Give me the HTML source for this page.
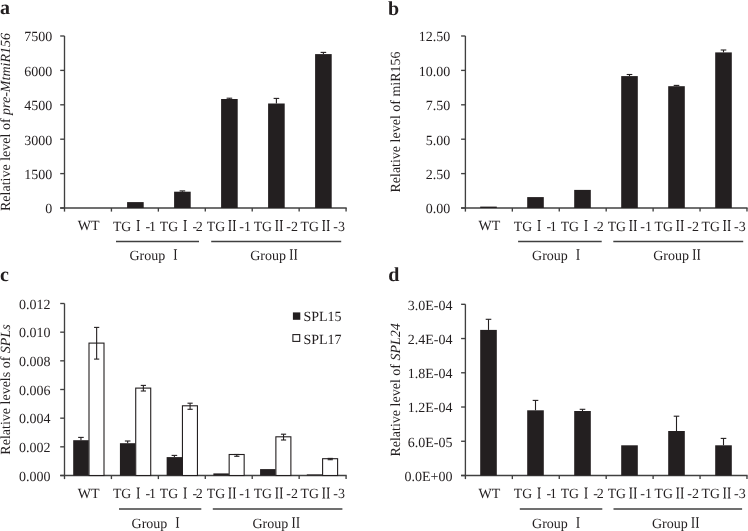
<!DOCTYPE html>
<html><head><meta charset="utf-8"><style>
html,body{margin:0;padding:0;background:#fff;}
svg{display:block;will-change:transform;}
text{font-family:"Liberation Serif", serif; fill:#231f20; text-rendering:geometricPrecision;}
</style></head><body>
<svg width="748" height="531" viewBox="0 0 748 531">
<rect width="748" height="531" fill="#fff"/>
<line x1="64.50" y1="36.00" x2="64.50" y2="211.60" stroke="#404040" stroke-width="1.35"/>
<line x1="60.20" y1="208.00" x2="64.50" y2="208.00" stroke="#404040" stroke-width="1.35"/>
<text x="52.20" y="213.30" font-size="14" text-anchor="end">0</text>
<line x1="60.20" y1="173.60" x2="64.50" y2="173.60" stroke="#404040" stroke-width="1.35"/>
<text x="52.20" y="178.90" font-size="14" text-anchor="end">1500</text>
<line x1="60.20" y1="139.20" x2="64.50" y2="139.20" stroke="#404040" stroke-width="1.35"/>
<text x="52.20" y="144.50" font-size="14" text-anchor="end">3000</text>
<line x1="60.20" y1="104.80" x2="64.50" y2="104.80" stroke="#404040" stroke-width="1.35"/>
<text x="52.20" y="110.10" font-size="14" text-anchor="end">4500</text>
<line x1="60.20" y1="70.40" x2="64.50" y2="70.40" stroke="#404040" stroke-width="1.35"/>
<text x="52.20" y="75.70" font-size="14" text-anchor="end">6000</text>
<line x1="60.20" y1="36.00" x2="64.50" y2="36.00" stroke="#404040" stroke-width="1.35"/>
<text x="52.20" y="41.30" font-size="14" text-anchor="end">7500</text>
<line x1="60.20" y1="208.00" x2="346.68" y2="208.00" stroke="#404040" stroke-width="1.35"/>
<line x1="111.43" y1="208.00" x2="111.43" y2="211.60" stroke="#404040" stroke-width="1.35"/>
<line x1="158.36" y1="208.00" x2="158.36" y2="211.60" stroke="#404040" stroke-width="1.35"/>
<line x1="205.29" y1="208.00" x2="205.29" y2="211.60" stroke="#404040" stroke-width="1.35"/>
<line x1="252.22" y1="208.00" x2="252.22" y2="211.60" stroke="#404040" stroke-width="1.35"/>
<line x1="299.15" y1="208.00" x2="299.15" y2="211.60" stroke="#404040" stroke-width="1.35"/>
<line x1="346.08" y1="208.00" x2="346.08" y2="211.60" stroke="#404040" stroke-width="1.35"/>
<text transform="translate(10.3,122.00) rotate(-90)" font-size="14" text-anchor="middle">Relative level of <tspan font-style="italic">pre-MtmiR156</tspan></text>
<text x="0" y="13.7" font-size="20" font-weight="bold">a</text>
<text x="88.56" y="230.40" font-size="14" text-anchor="middle">WT</text>
<text x="112.90" y="230.80" font-size="14" text-anchor="start" textLength="18.3" lengthAdjust="spacingAndGlyphs">TG</text>
<path d="M136.25,220.10H140.15L138.82,221.20V230.00L140.15,231.10H136.25L137.58,230.00V221.20Z" fill="#231f20"/>
<text x="145.50" y="230.80" font-size="14" text-anchor="start">-</text>
<text x="148.90" y="230.80" font-size="14" text-anchor="start">1</text>
<text x="159.83" y="230.80" font-size="14" text-anchor="start" textLength="18.3" lengthAdjust="spacingAndGlyphs">TG</text>
<path d="M183.18,220.10H187.08L185.75,221.20V230.00L187.08,231.10H183.18L184.51,230.00V221.20Z" fill="#231f20"/>
<text x="192.43" y="230.80" font-size="14" text-anchor="start">-</text>
<text x="195.83" y="230.80" font-size="14" text-anchor="start">2</text>
<text x="206.75" y="230.80" font-size="14" text-anchor="start" textLength="18.3" lengthAdjust="spacingAndGlyphs">TG</text>
<path d="M228.10,220.10H231.80L230.57,221.20V230.00L231.80,231.10H228.10L229.33,230.00V221.20Z" fill="#231f20"/>
<path d="M232.55,220.10H236.16L234.97,221.20V230.00L236.16,231.10H232.55L233.73,230.00V221.20Z" fill="#231f20"/>
<text x="239.35" y="230.80" font-size="14" text-anchor="start">-</text>
<text x="244.06" y="230.80" font-size="14" text-anchor="start">1</text>
<text x="253.69" y="230.80" font-size="14" text-anchor="start" textLength="18.3" lengthAdjust="spacingAndGlyphs">TG</text>
<path d="M275.03,220.10H278.74L277.50,221.20V230.00L278.74,231.10H275.03L276.26,230.00V221.20Z" fill="#231f20"/>
<path d="M279.48,220.10H283.08L281.90,221.20V230.00L283.08,231.10H279.48L280.66,230.00V221.20Z" fill="#231f20"/>
<text x="286.29" y="230.80" font-size="14" text-anchor="start">-</text>
<text x="290.99" y="230.80" font-size="14" text-anchor="start">2</text>
<text x="300.61" y="230.80" font-size="14" text-anchor="start" textLength="18.3" lengthAdjust="spacingAndGlyphs">TG</text>
<path d="M321.96,220.10H325.66L324.43,221.20V230.00L325.66,231.10H321.96L323.19,230.00V221.20Z" fill="#231f20"/>
<path d="M326.41,220.10H330.01L328.83,221.20V230.00L330.01,231.10H326.41L327.59,230.00V221.20Z" fill="#231f20"/>
<text x="333.21" y="230.80" font-size="14" text-anchor="start">-</text>
<text x="337.91" y="230.80" font-size="14" text-anchor="start">3</text>
<line x1="116.00" y1="241.50" x2="199.00" y2="241.50" stroke="#404040" stroke-width="1.35"/>
<line x1="211.20" y1="241.50" x2="341.20" y2="241.50" stroke="#404040" stroke-width="1.35"/>
<text x="129.50" y="259.80" font-size="14" text-anchor="start">Group</text>
<path d="M173.45,249.20H177.35L176.02,250.30V258.70L177.35,259.80H173.45L174.78,258.70V250.30Z" fill="#231f20"/>
<text x="250.20" y="259.80" font-size="14" text-anchor="start">Group</text>
<path d="M289.45,249.20H293.15L291.92,250.30V258.70L293.15,259.80H289.45L290.68,258.70V250.30Z" fill="#231f20"/>
<path d="M293.90,249.20H297.50L296.32,250.30V258.70L297.50,259.80H293.90L295.08,258.70V250.30Z" fill="#231f20"/>
<rect x="127.10" y="202.10" width="16.60" height="5.90" fill="#231f20"/>
<line x1="182.40" y1="190.90" x2="182.40" y2="191.70" stroke="#231f20" stroke-width="1.1"/>
<line x1="179.60" y1="190.90" x2="185.20" y2="190.90" stroke="#231f20" stroke-width="1.1"/>
<rect x="174.10" y="191.70" width="16.60" height="16.30" fill="#231f20"/>
<line x1="229.40" y1="98.20" x2="229.40" y2="99.00" stroke="#231f20" stroke-width="1.1"/>
<line x1="226.60" y1="98.20" x2="232.20" y2="98.20" stroke="#231f20" stroke-width="1.1"/>
<rect x="221.10" y="99.00" width="16.60" height="109.00" fill="#231f20"/>
<line x1="276.40" y1="98.40" x2="276.40" y2="103.50" stroke="#231f20" stroke-width="1.1"/>
<line x1="273.60" y1="98.40" x2="279.20" y2="98.40" stroke="#231f20" stroke-width="1.1"/>
<rect x="268.10" y="103.50" width="16.60" height="104.50" fill="#231f20"/>
<line x1="323.40" y1="52.40" x2="323.40" y2="54.10" stroke="#231f20" stroke-width="1.1"/>
<line x1="320.60" y1="52.40" x2="326.20" y2="52.40" stroke="#231f20" stroke-width="1.1"/>
<rect x="315.10" y="54.10" width="16.60" height="153.90" fill="#231f20"/>
<line x1="465.40" y1="36.00" x2="465.40" y2="211.60" stroke="#404040" stroke-width="1.35"/>
<line x1="461.10" y1="208.00" x2="465.40" y2="208.00" stroke="#404040" stroke-width="1.35"/>
<text x="450.20" y="213.30" font-size="14" text-anchor="end">0.00</text>
<line x1="461.10" y1="173.60" x2="465.40" y2="173.60" stroke="#404040" stroke-width="1.35"/>
<text x="450.20" y="178.90" font-size="14" text-anchor="end">2.50</text>
<line x1="461.10" y1="139.20" x2="465.40" y2="139.20" stroke="#404040" stroke-width="1.35"/>
<text x="450.20" y="144.50" font-size="14" text-anchor="end">5.00</text>
<line x1="461.10" y1="104.80" x2="465.40" y2="104.80" stroke="#404040" stroke-width="1.35"/>
<text x="450.20" y="110.10" font-size="14" text-anchor="end">7.50</text>
<line x1="461.10" y1="70.40" x2="465.40" y2="70.40" stroke="#404040" stroke-width="1.35"/>
<text x="450.20" y="75.70" font-size="14" text-anchor="end">10.00</text>
<line x1="461.10" y1="36.00" x2="465.40" y2="36.00" stroke="#404040" stroke-width="1.35"/>
<text x="450.20" y="41.30" font-size="14" text-anchor="end">12.50</text>
<line x1="461.10" y1="208.00" x2="747.58" y2="208.00" stroke="#404040" stroke-width="1.35"/>
<line x1="512.33" y1="208.00" x2="512.33" y2="211.60" stroke="#404040" stroke-width="1.35"/>
<line x1="559.26" y1="208.00" x2="559.26" y2="211.60" stroke="#404040" stroke-width="1.35"/>
<line x1="606.19" y1="208.00" x2="606.19" y2="211.60" stroke="#404040" stroke-width="1.35"/>
<line x1="653.12" y1="208.00" x2="653.12" y2="211.60" stroke="#404040" stroke-width="1.35"/>
<line x1="700.05" y1="208.00" x2="700.05" y2="211.60" stroke="#404040" stroke-width="1.35"/>
<line x1="746.98" y1="208.00" x2="746.98" y2="211.60" stroke="#404040" stroke-width="1.35"/>
<text transform="translate(399.8,122.00) rotate(-90)" font-size="14" text-anchor="middle">Relative level of miR156</text>
<text x="388" y="14.5" font-size="20" font-weight="bold">b</text>
<text x="489.46" y="230.40" font-size="14" text-anchor="middle">WT</text>
<text x="513.79" y="230.80" font-size="14" text-anchor="start" textLength="18.3" lengthAdjust="spacingAndGlyphs">TG</text>
<path d="M537.14,220.10H541.04L539.71,221.20V230.00L541.04,231.10H537.14L538.47,230.00V221.20Z" fill="#231f20"/>
<text x="546.39" y="230.80" font-size="14" text-anchor="start">-</text>
<text x="549.79" y="230.80" font-size="14" text-anchor="start">1</text>
<text x="560.73" y="230.80" font-size="14" text-anchor="start" textLength="18.3" lengthAdjust="spacingAndGlyphs">TG</text>
<path d="M584.07,220.10H587.98L586.64,221.20V230.00L587.98,231.10H584.07L585.40,230.00V221.20Z" fill="#231f20"/>
<text x="593.33" y="230.80" font-size="14" text-anchor="start">-</text>
<text x="596.73" y="230.80" font-size="14" text-anchor="start">2</text>
<text x="607.65" y="230.80" font-size="14" text-anchor="start" textLength="18.3" lengthAdjust="spacingAndGlyphs">TG</text>
<path d="M629.00,220.10H632.71L631.48,221.20V230.00L632.71,231.10H629.00L630.24,230.00V221.20Z" fill="#231f20"/>
<path d="M633.46,220.10H637.05L635.88,221.20V230.00L637.05,231.10H633.46L634.63,230.00V221.20Z" fill="#231f20"/>
<text x="640.25" y="230.80" font-size="14" text-anchor="start">-</text>
<text x="644.95" y="230.80" font-size="14" text-anchor="start">1</text>
<text x="654.59" y="230.80" font-size="14" text-anchor="start" textLength="18.3" lengthAdjust="spacingAndGlyphs">TG</text>
<path d="M675.94,220.10H679.64L678.41,221.20V230.00L679.64,231.10H675.94L677.17,230.00V221.20Z" fill="#231f20"/>
<path d="M680.39,220.10H683.99L682.81,221.20V230.00L683.99,231.10H680.39L681.57,230.00V221.20Z" fill="#231f20"/>
<text x="687.19" y="230.80" font-size="14" text-anchor="start">-</text>
<text x="691.88" y="230.80" font-size="14" text-anchor="start">2</text>
<text x="701.51" y="230.80" font-size="14" text-anchor="start" textLength="18.3" lengthAdjust="spacingAndGlyphs">TG</text>
<path d="M722.87,220.10H726.57L725.34,221.20V230.00L726.57,231.10H722.87L724.10,230.00V221.20Z" fill="#231f20"/>
<path d="M727.32,220.10H730.91L729.74,221.20V230.00L730.91,231.10H727.32L728.50,230.00V221.20Z" fill="#231f20"/>
<text x="734.12" y="230.80" font-size="14" text-anchor="start">-</text>
<text x="738.81" y="230.80" font-size="14" text-anchor="start">3</text>
<line x1="518.10" y1="241.50" x2="601.70" y2="241.50" stroke="#404040" stroke-width="1.35"/>
<line x1="613.30" y1="241.50" x2="743.20" y2="241.50" stroke="#404040" stroke-width="1.35"/>
<text x="532.10" y="259.80" font-size="14" text-anchor="start">Group</text>
<path d="M576.05,249.20H579.95L578.62,250.30V258.70L579.95,259.80H576.05L577.38,258.70V250.30Z" fill="#231f20"/>
<text x="653.20" y="259.80" font-size="14" text-anchor="start">Group</text>
<path d="M692.45,249.20H696.15L694.92,250.30V258.70L696.15,259.80H692.45L693.68,258.70V250.30Z" fill="#231f20"/>
<path d="M696.90,249.20H700.50L699.32,250.30V258.70L700.50,259.80H696.90L698.08,258.70V250.30Z" fill="#231f20"/>
<rect x="480.20" y="206.60" width="16.60" height="1.40" fill="#231f20"/>
<rect x="527.20" y="197.10" width="16.60" height="10.90" fill="#231f20"/>
<rect x="574.20" y="189.90" width="16.60" height="18.10" fill="#231f20"/>
<line x1="629.50" y1="74.50" x2="629.50" y2="76.10" stroke="#231f20" stroke-width="1.1"/>
<line x1="626.70" y1="74.50" x2="632.30" y2="74.50" stroke="#231f20" stroke-width="1.1"/>
<rect x="621.20" y="76.10" width="16.60" height="131.90" fill="#231f20"/>
<line x1="676.50" y1="85.40" x2="676.50" y2="86.20" stroke="#231f20" stroke-width="1.1"/>
<line x1="673.70" y1="85.40" x2="679.30" y2="85.40" stroke="#231f20" stroke-width="1.1"/>
<rect x="668.20" y="86.20" width="16.60" height="121.80" fill="#231f20"/>
<line x1="723.50" y1="50.00" x2="723.50" y2="52.40" stroke="#231f20" stroke-width="1.1"/>
<line x1="720.70" y1="50.00" x2="726.30" y2="50.00" stroke="#231f20" stroke-width="1.1"/>
<rect x="715.20" y="52.40" width="16.60" height="155.60" fill="#231f20"/>
<line x1="64.50" y1="303.50" x2="64.50" y2="479.10" stroke="#404040" stroke-width="1.35"/>
<line x1="60.20" y1="475.50" x2="64.50" y2="475.50" stroke="#404040" stroke-width="1.35"/>
<text x="50.60" y="480.80" font-size="14" text-anchor="end">0.000</text>
<line x1="60.20" y1="446.83" x2="64.50" y2="446.83" stroke="#404040" stroke-width="1.35"/>
<text x="50.60" y="452.13" font-size="14" text-anchor="end">0.002</text>
<line x1="60.20" y1="418.17" x2="64.50" y2="418.17" stroke="#404040" stroke-width="1.35"/>
<text x="50.60" y="423.47" font-size="14" text-anchor="end">0.004</text>
<line x1="60.20" y1="389.50" x2="64.50" y2="389.50" stroke="#404040" stroke-width="1.35"/>
<text x="50.60" y="394.80" font-size="14" text-anchor="end">0.006</text>
<line x1="60.20" y1="360.83" x2="64.50" y2="360.83" stroke="#404040" stroke-width="1.35"/>
<text x="50.60" y="366.13" font-size="14" text-anchor="end">0.008</text>
<line x1="60.20" y1="332.17" x2="64.50" y2="332.17" stroke="#404040" stroke-width="1.35"/>
<text x="50.60" y="337.47" font-size="14" text-anchor="end">0.010</text>
<line x1="60.20" y1="303.50" x2="64.50" y2="303.50" stroke="#404040" stroke-width="1.35"/>
<text x="50.60" y="308.80" font-size="14" text-anchor="end">0.012</text>
<line x1="60.20" y1="475.50" x2="346.68" y2="475.50" stroke="#404040" stroke-width="1.35"/>
<line x1="111.43" y1="475.50" x2="111.43" y2="479.10" stroke="#404040" stroke-width="1.35"/>
<line x1="158.36" y1="475.50" x2="158.36" y2="479.10" stroke="#404040" stroke-width="1.35"/>
<line x1="205.29" y1="475.50" x2="205.29" y2="479.10" stroke="#404040" stroke-width="1.35"/>
<line x1="252.22" y1="475.50" x2="252.22" y2="479.10" stroke="#404040" stroke-width="1.35"/>
<line x1="299.15" y1="475.50" x2="299.15" y2="479.10" stroke="#404040" stroke-width="1.35"/>
<line x1="346.08" y1="475.50" x2="346.08" y2="479.10" stroke="#404040" stroke-width="1.35"/>
<text transform="translate(10.3,389.50) rotate(-90)" font-size="14" text-anchor="middle">Relative levels of <tspan font-style="italic">SPLs</tspan></text>
<text x="0" y="280.5" font-size="20" font-weight="bold">c</text>
<text x="88.56" y="497.90" font-size="14" text-anchor="middle">WT</text>
<text x="112.90" y="498.30" font-size="14" text-anchor="start" textLength="18.3" lengthAdjust="spacingAndGlyphs">TG</text>
<path d="M136.25,487.60H140.15L138.82,488.70V497.50L140.15,498.60H136.25L137.58,497.50V488.70Z" fill="#231f20"/>
<text x="145.50" y="498.30" font-size="14" text-anchor="start">-</text>
<text x="148.90" y="498.30" font-size="14" text-anchor="start">1</text>
<text x="159.83" y="498.30" font-size="14" text-anchor="start" textLength="18.3" lengthAdjust="spacingAndGlyphs">TG</text>
<path d="M183.18,487.60H187.08L185.75,488.70V497.50L187.08,498.60H183.18L184.51,497.50V488.70Z" fill="#231f20"/>
<text x="192.43" y="498.30" font-size="14" text-anchor="start">-</text>
<text x="195.83" y="498.30" font-size="14" text-anchor="start">2</text>
<text x="206.75" y="498.30" font-size="14" text-anchor="start" textLength="18.3" lengthAdjust="spacingAndGlyphs">TG</text>
<path d="M228.10,487.60H231.80L230.57,488.70V497.50L231.80,498.60H228.10L229.33,497.50V488.70Z" fill="#231f20"/>
<path d="M232.55,487.60H236.16L234.97,488.70V497.50L236.16,498.60H232.55L233.73,497.50V488.70Z" fill="#231f20"/>
<text x="239.35" y="498.30" font-size="14" text-anchor="start">-</text>
<text x="244.06" y="498.30" font-size="14" text-anchor="start">1</text>
<text x="253.69" y="498.30" font-size="14" text-anchor="start" textLength="18.3" lengthAdjust="spacingAndGlyphs">TG</text>
<path d="M275.03,487.60H278.74L277.50,488.70V497.50L278.74,498.60H275.03L276.26,497.50V488.70Z" fill="#231f20"/>
<path d="M279.48,487.60H283.08L281.90,488.70V497.50L283.08,498.60H279.48L280.66,497.50V488.70Z" fill="#231f20"/>
<text x="286.29" y="498.30" font-size="14" text-anchor="start">-</text>
<text x="290.99" y="498.30" font-size="14" text-anchor="start">2</text>
<text x="300.61" y="498.30" font-size="14" text-anchor="start" textLength="18.3" lengthAdjust="spacingAndGlyphs">TG</text>
<path d="M321.96,487.60H325.66L324.43,488.70V497.50L325.66,498.60H321.96L323.19,497.50V488.70Z" fill="#231f20"/>
<path d="M326.41,487.60H330.01L328.83,488.70V497.50L330.01,498.60H326.41L327.59,497.50V488.70Z" fill="#231f20"/>
<text x="333.21" y="498.30" font-size="14" text-anchor="start">-</text>
<text x="337.91" y="498.30" font-size="14" text-anchor="start">3</text>
<line x1="119.00" y1="509.00" x2="201.30" y2="509.00" stroke="#404040" stroke-width="1.35"/>
<line x1="212.80" y1="509.00" x2="342.40" y2="509.00" stroke="#404040" stroke-width="1.35"/>
<text x="131.60" y="527.80" font-size="14" text-anchor="start">Group</text>
<path d="M175.55,517.20H179.45L178.12,518.30V526.70L179.45,527.80H175.55L176.88,526.70V518.30Z" fill="#231f20"/>
<text x="252.50" y="527.80" font-size="14" text-anchor="start">Group</text>
<path d="M291.75,517.20H295.45L294.22,518.30V526.70L295.45,527.80H291.75L292.98,526.70V518.30Z" fill="#231f20"/>
<path d="M296.20,517.20H299.80L298.62,518.30V526.70L299.80,527.80H296.20L297.38,526.70V518.30Z" fill="#231f20"/>
<line x1="80.95" y1="437.40" x2="80.95" y2="440.20" stroke="#231f20" stroke-width="1.1"/>
<line x1="78.15" y1="437.40" x2="83.75" y2="437.40" stroke="#231f20" stroke-width="1.1"/>
<rect x="73.20" y="440.20" width="15.50" height="35.30" fill="#231f20"/>
<rect x="89.00" y="343.10" width="15.00" height="132.40" fill="#ffffff" stroke="#231f20" stroke-width="1.1"/>
<line x1="96.65" y1="327.40" x2="96.65" y2="359.10" stroke="#231f20" stroke-width="1.1"/>
<line x1="94.05" y1="327.40" x2="99.25" y2="327.40" stroke="#231f20" stroke-width="1.1"/>
<line x1="94.05" y1="359.10" x2="99.25" y2="359.10" stroke="#231f20" stroke-width="1.1"/>
<line x1="127.67" y1="441.00" x2="127.67" y2="443.20" stroke="#231f20" stroke-width="1.1"/>
<line x1="124.87" y1="441.00" x2="130.47" y2="441.00" stroke="#231f20" stroke-width="1.1"/>
<rect x="119.92" y="443.20" width="15.50" height="32.30" fill="#231f20"/>
<rect x="135.72" y="388.10" width="15.00" height="87.40" fill="#ffffff" stroke="#231f20" stroke-width="1.1"/>
<line x1="143.37" y1="385.40" x2="143.37" y2="391.00" stroke="#231f20" stroke-width="1.1"/>
<line x1="140.77" y1="385.40" x2="145.97" y2="385.40" stroke="#231f20" stroke-width="1.1"/>
<line x1="140.77" y1="391.00" x2="145.97" y2="391.00" stroke="#231f20" stroke-width="1.1"/>
<line x1="174.39" y1="455.40" x2="174.39" y2="457.10" stroke="#231f20" stroke-width="1.1"/>
<line x1="171.59" y1="455.40" x2="177.19" y2="455.40" stroke="#231f20" stroke-width="1.1"/>
<rect x="166.64" y="457.10" width="15.50" height="18.40" fill="#231f20"/>
<rect x="182.44" y="405.80" width="15.00" height="69.70" fill="#ffffff" stroke="#231f20" stroke-width="1.1"/>
<line x1="190.09" y1="403.20" x2="190.09" y2="409.30" stroke="#231f20" stroke-width="1.1"/>
<line x1="187.49" y1="403.20" x2="192.69" y2="403.20" stroke="#231f20" stroke-width="1.1"/>
<line x1="187.49" y1="409.30" x2="192.69" y2="409.30" stroke="#231f20" stroke-width="1.1"/>
<rect x="213.36" y="473.40" width="15.50" height="2.10" fill="#231f20"/>
<rect x="229.16" y="454.50" width="15.00" height="21.00" fill="#ffffff" stroke="#231f20" stroke-width="1.1"/>
<line x1="236.81" y1="454.50" x2="236.81" y2="456.30" stroke="#231f20" stroke-width="1.1"/>
<line x1="234.21" y1="454.50" x2="239.41" y2="454.50" stroke="#231f20" stroke-width="1.1"/>
<line x1="234.21" y1="456.30" x2="239.41" y2="456.30" stroke="#231f20" stroke-width="1.1"/>
<rect x="260.08" y="469.10" width="15.50" height="6.40" fill="#231f20"/>
<rect x="275.88" y="436.80" width="15.00" height="38.70" fill="#ffffff" stroke="#231f20" stroke-width="1.1"/>
<line x1="283.53" y1="434.20" x2="283.53" y2="440.00" stroke="#231f20" stroke-width="1.1"/>
<line x1="280.93" y1="434.20" x2="286.13" y2="434.20" stroke="#231f20" stroke-width="1.1"/>
<line x1="280.93" y1="440.00" x2="286.13" y2="440.00" stroke="#231f20" stroke-width="1.1"/>
<rect x="306.80" y="474.40" width="15.50" height="1.10" fill="#231f20"/>
<rect x="322.60" y="458.70" width="15.00" height="16.80" fill="#ffffff" stroke="#231f20" stroke-width="1.1"/>
<line x1="330.25" y1="458.40" x2="330.25" y2="459.70" stroke="#231f20" stroke-width="1.1"/>
<line x1="327.65" y1="458.40" x2="332.85" y2="458.40" stroke="#231f20" stroke-width="1.1"/>
<line x1="327.65" y1="459.70" x2="332.85" y2="459.70" stroke="#231f20" stroke-width="1.1"/>
<rect x="292.90" y="312.40" width="7.40" height="7.40" fill="#231f20"/>
<rect x="292.90" y="334.60" width="6.80" height="6.80" fill="#ffffff" stroke="#231f20" stroke-width="1.1"/>
<text x="303.50" y="321.20" font-size="14" text-anchor="start">SPL15</text>
<text x="303.50" y="343.60" font-size="14" text-anchor="start">SPL17</text>
<line x1="465.40" y1="304.30" x2="465.40" y2="479.10" stroke="#404040" stroke-width="1.35"/>
<line x1="461.10" y1="475.50" x2="465.40" y2="475.50" stroke="#404040" stroke-width="1.35"/>
<text x="452.40" y="480.80" font-size="14" text-anchor="end">0.0E+00</text>
<line x1="461.10" y1="441.26" x2="465.40" y2="441.26" stroke="#404040" stroke-width="1.35"/>
<text x="452.40" y="446.56" font-size="14" text-anchor="end">6.0E-05</text>
<line x1="461.10" y1="407.02" x2="465.40" y2="407.02" stroke="#404040" stroke-width="1.35"/>
<text x="452.40" y="412.32" font-size="14" text-anchor="end">1.2E-04</text>
<line x1="461.10" y1="372.78" x2="465.40" y2="372.78" stroke="#404040" stroke-width="1.35"/>
<text x="452.40" y="378.08" font-size="14" text-anchor="end">1.8E-04</text>
<line x1="461.10" y1="338.54" x2="465.40" y2="338.54" stroke="#404040" stroke-width="1.35"/>
<text x="452.40" y="343.84" font-size="14" text-anchor="end">2.4E-04</text>
<line x1="461.10" y1="304.30" x2="465.40" y2="304.30" stroke="#404040" stroke-width="1.35"/>
<text x="452.40" y="309.60" font-size="14" text-anchor="end">3.0E-04</text>
<line x1="461.10" y1="475.50" x2="747.58" y2="475.50" stroke="#404040" stroke-width="1.35"/>
<line x1="512.33" y1="475.50" x2="512.33" y2="479.10" stroke="#404040" stroke-width="1.35"/>
<line x1="559.26" y1="475.50" x2="559.26" y2="479.10" stroke="#404040" stroke-width="1.35"/>
<line x1="606.19" y1="475.50" x2="606.19" y2="479.10" stroke="#404040" stroke-width="1.35"/>
<line x1="653.12" y1="475.50" x2="653.12" y2="479.10" stroke="#404040" stroke-width="1.35"/>
<line x1="700.05" y1="475.50" x2="700.05" y2="479.10" stroke="#404040" stroke-width="1.35"/>
<line x1="746.98" y1="475.50" x2="746.98" y2="479.10" stroke="#404040" stroke-width="1.35"/>
<text transform="translate(399.8,389.90) rotate(-90)" font-size="14" text-anchor="middle">Relative level of <tspan font-style="italic">SPL24</tspan></text>
<text x="388.2" y="280.6" font-size="20" font-weight="bold">d</text>
<text x="489.46" y="497.90" font-size="14" text-anchor="middle">WT</text>
<text x="513.79" y="498.30" font-size="14" text-anchor="start" textLength="18.3" lengthAdjust="spacingAndGlyphs">TG</text>
<path d="M537.14,487.60H541.04L539.71,488.70V497.50L541.04,498.60H537.14L538.47,497.50V488.70Z" fill="#231f20"/>
<text x="546.39" y="498.30" font-size="14" text-anchor="start">-</text>
<text x="549.79" y="498.30" font-size="14" text-anchor="start">1</text>
<text x="560.73" y="498.30" font-size="14" text-anchor="start" textLength="18.3" lengthAdjust="spacingAndGlyphs">TG</text>
<path d="M584.07,487.60H587.98L586.64,488.70V497.50L587.98,498.60H584.07L585.40,497.50V488.70Z" fill="#231f20"/>
<text x="593.33" y="498.30" font-size="14" text-anchor="start">-</text>
<text x="596.73" y="498.30" font-size="14" text-anchor="start">2</text>
<text x="607.65" y="498.30" font-size="14" text-anchor="start" textLength="18.3" lengthAdjust="spacingAndGlyphs">TG</text>
<path d="M629.00,487.60H632.71L631.48,488.70V497.50L632.71,498.60H629.00L630.24,497.50V488.70Z" fill="#231f20"/>
<path d="M633.46,487.60H637.05L635.88,488.70V497.50L637.05,498.60H633.46L634.63,497.50V488.70Z" fill="#231f20"/>
<text x="640.25" y="498.30" font-size="14" text-anchor="start">-</text>
<text x="644.95" y="498.30" font-size="14" text-anchor="start">1</text>
<text x="654.59" y="498.30" font-size="14" text-anchor="start" textLength="18.3" lengthAdjust="spacingAndGlyphs">TG</text>
<path d="M675.94,487.60H679.64L678.41,488.70V497.50L679.64,498.60H675.94L677.17,497.50V488.70Z" fill="#231f20"/>
<path d="M680.39,487.60H683.99L682.81,488.70V497.50L683.99,498.60H680.39L681.57,497.50V488.70Z" fill="#231f20"/>
<text x="687.19" y="498.30" font-size="14" text-anchor="start">-</text>
<text x="691.88" y="498.30" font-size="14" text-anchor="start">2</text>
<text x="701.51" y="498.30" font-size="14" text-anchor="start" textLength="18.3" lengthAdjust="spacingAndGlyphs">TG</text>
<path d="M722.87,487.60H726.57L725.34,488.70V497.50L726.57,498.60H722.87L724.10,497.50V488.70Z" fill="#231f20"/>
<path d="M727.32,487.60H730.91L729.74,488.70V497.50L730.91,498.60H727.32L728.50,497.50V488.70Z" fill="#231f20"/>
<text x="734.12" y="498.30" font-size="14" text-anchor="start">-</text>
<text x="738.81" y="498.30" font-size="14" text-anchor="start">3</text>
<line x1="519.80" y1="509.00" x2="602.30" y2="509.00" stroke="#404040" stroke-width="1.35"/>
<line x1="613.50" y1="509.00" x2="742.10" y2="509.00" stroke="#404040" stroke-width="1.35"/>
<text x="532.10" y="527.80" font-size="14" text-anchor="start">Group</text>
<path d="M576.05,517.20H579.95L578.62,518.30V526.70L579.95,527.80H576.05L577.38,526.70V518.30Z" fill="#231f20"/>
<text x="651.90" y="527.80" font-size="14" text-anchor="start">Group</text>
<path d="M691.15,517.20H694.85L693.62,518.30V526.70L694.85,527.80H691.15L692.38,526.70V518.30Z" fill="#231f20"/>
<path d="M695.60,517.20H699.20L698.02,518.30V526.70L699.20,527.80H695.60L696.78,526.70V518.30Z" fill="#231f20"/>
<line x1="488.50" y1="319.30" x2="488.50" y2="329.90" stroke="#231f20" stroke-width="1.1"/>
<line x1="485.70" y1="319.30" x2="491.30" y2="319.30" stroke="#231f20" stroke-width="1.1"/>
<rect x="480.20" y="329.90" width="16.60" height="145.60" fill="#231f20"/>
<line x1="535.50" y1="400.40" x2="535.50" y2="410.30" stroke="#231f20" stroke-width="1.1"/>
<line x1="532.70" y1="400.40" x2="538.30" y2="400.40" stroke="#231f20" stroke-width="1.1"/>
<rect x="527.20" y="410.30" width="16.60" height="65.20" fill="#231f20"/>
<line x1="582.50" y1="409.30" x2="582.50" y2="411.00" stroke="#231f20" stroke-width="1.1"/>
<line x1="579.70" y1="409.30" x2="585.30" y2="409.30" stroke="#231f20" stroke-width="1.1"/>
<rect x="574.20" y="411.00" width="16.60" height="64.50" fill="#231f20"/>
<rect x="621.20" y="445.30" width="16.60" height="30.20" fill="#231f20"/>
<line x1="676.50" y1="416.20" x2="676.50" y2="431.00" stroke="#231f20" stroke-width="1.1"/>
<line x1="673.70" y1="416.20" x2="679.30" y2="416.20" stroke="#231f20" stroke-width="1.1"/>
<rect x="668.20" y="431.00" width="16.60" height="44.50" fill="#231f20"/>
<line x1="723.50" y1="438.40" x2="723.50" y2="445.30" stroke="#231f20" stroke-width="1.1"/>
<line x1="720.70" y1="438.40" x2="726.30" y2="438.40" stroke="#231f20" stroke-width="1.1"/>
<rect x="715.20" y="445.30" width="16.60" height="30.20" fill="#231f20"/>
</svg></body></html>
